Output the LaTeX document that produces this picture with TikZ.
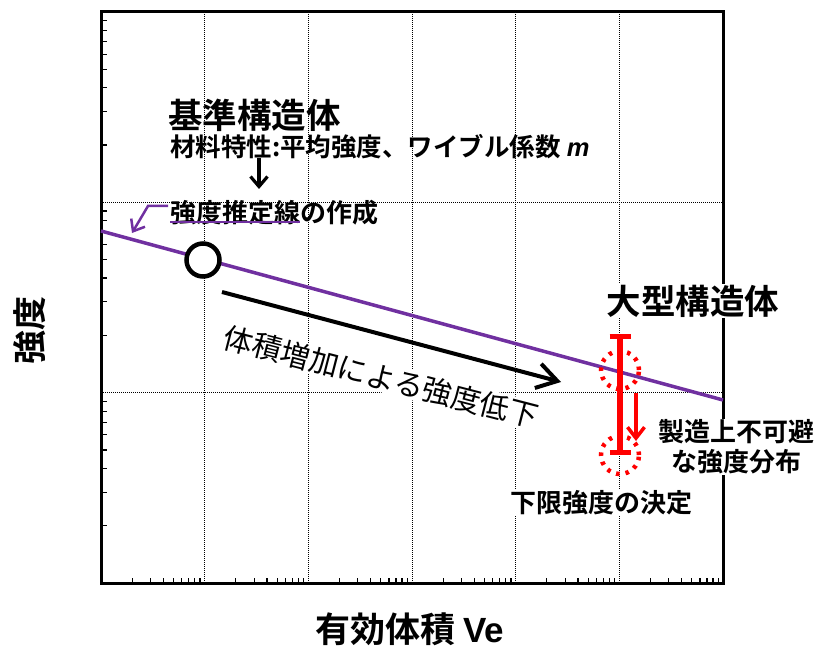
\documentclass[tikz,border=0pt]{standalone}
\usepackage{fontspec}
\setmainfont{Noto Sans CJK JP}[BoldFont={Noto Sans CJK JP Bold}]
\newfontfamily\lat{Liberation Sans}
\usetikzlibrary{arrows.meta}
\definecolor{plin}{HTML}{7030A0}
\definecolor{rline}{HTML}{FF0000}
\begin{document}
\begin{tikzpicture}[x=1pt,y=-1pt,
  gridl/.style={line width=0.9pt, dash pattern=on 1pt off 1pt},
  tickl/.style={line width=1.2pt},
  bigtxt/.style={font=\bfseries\fontsize{34.5}{34.5}\selectfont, inner sep=0pt},
  midtxt/.style={font=\bfseries\fontsize{25.5}{25.5}\selectfont, inner sep=0pt},
  redtxt/.style={font=\bfseries\fontsize{26}{30}\selectfont, inner sep=1pt, fill=white},
  reddot/.style={draw=rline, line width=4.5pt, dash pattern=on 3.5pt off 6pt, circle, minimum size=38pt, inner sep=0pt}
]
\useasboundingbox (0,0) rectangle (819,647);
% grid
\foreach \i in {1,...,5}
  \draw[gridl] ({101+103.667*\i},12) -- ({101+103.667*\i},583);
\foreach \j in {1,2}
  \draw[gridl] (101,{12+190.33*\j}) -- (723,{12+190.33*\j});
% ticks
\foreach \d in {1,2,3}
  \foreach \k in {2,...,9}
    \draw[tickl] (101,{12+190.33*\d-190.33*log10(\k)}) -- ++(6,0);
\foreach \d in {0,...,5}
  \foreach \k in {2,...,9}
    \draw[tickl] ({101+103.667*(\d+log10(\k))},583) -- ++(0,-5);
% frame
\draw[line width=3pt] (101,12) rectangle (723,583);
% strength line
\coordinate (pl) at (101,231);
\coordinate (pr) at (723,400);
\draw[plin, line width=3.5pt] (pl) -- (pr);
% reference circle
\node[circle, draw, line width=4.5pt, fill=white, minimum size=33pt, inner sep=0pt] (ref) at (203,260) {};
% top texts
\node[bigtxt, anchor=west] (kijun) at (168,115) {基準構造体};
\node[midtxt, anchor=west] (zairyo) at (170,147) {材料特性:平均強度、ワイブル係数 {\lat\bfseries\itshape m}};
\coordinate (a1s) at (259,158);
\coordinate (a1e) at (259,189);
\draw[line width=3.2pt, -{Straight Barb[length=10pt,width=17pt]}] (a1s) -- (a1e);
\node[midtxt, anchor=west, font=\bfseries\fontsize{26}{26}\selectfont] (suitei) at (170,213) {強度推定線の作成};
\coordinate (u1) at (170,222);
\coordinate (u2) at (300,222);
\draw[plin, line width=1.4pt] (u1) -- (u2);
\coordinate (pa1) at (168,206);
\coordinate (pa2) at (148,206);
\coordinate (pa3) at (132,233);
\draw[plin, line width=2.5pt, -{Straight Barb[length=10pt,width=16pt]}] (pa1) -- (pa2) -- (pa3);
% middle rotated text and arrow
\node[rotate=-14.5, fill=white, inner sep=1pt, font=\fontsize{29.5}{29.5}\selectfont] (mid) at (381,377) {体積増加による強度低下};
\coordinate (b1) at (222,292);
\coordinate (b2) at (561,382);
\draw[line width=4pt, -{Straight Barb[length=20pt,width=25pt]}] (b1) -- (b2);
% large structure
\node[bigtxt, fill=white, inner sep=1pt] (ogata) at (693,301) {大型構造体};
\coordinate (r1) at (620,336);
\coordinate (r2) at (620,452);
\draw[rline, line width=6pt] (r1) -- (r2);
\draw[rline, line width=5pt] ([xshift=-10.5pt]r1) -- ([xshift=10.5pt]r1);
\draw[rline, line width=5pt] ([xshift=-10.5pt]r2) -- ([xshift=10.5pt]r2);
\node[reddot] (c1) at (620,370) {};
\node[reddot] (c2) at (620,455) {};
\coordinate (ra1) at (636,393);
\coordinate (ra2) at (636,441);
\draw[rline, line width=3.5pt, -{Straight Barb[length=11pt,width=17pt]}] (ra1) -- (ra2);
\node[redtxt, align=center] (seizo) at (736,447) {製造上不可避\\な強度分布};
\node[redtxt] (kagen) at (601,503) {下限強度の決定};
% axis labels
\node[font=\bfseries\fontsize{34}{34}\selectfont, rotate=90] (ylab) at (30,330) {強度};
\node[font=\bfseries\fontsize{35}{35}\selectfont, inner sep=0pt] (xlab) at (410,629) {有効体積 {\lat\bfseries Ve}};
\end{tikzpicture}
\end{document}
